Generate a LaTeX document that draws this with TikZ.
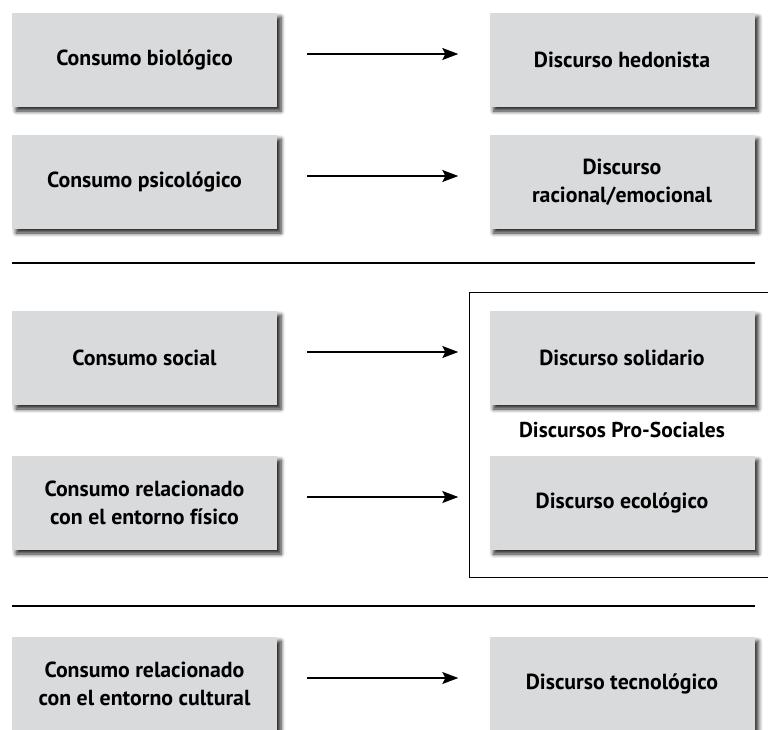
\documentclass[tikz,border=0pt]{standalone}
\usepackage{fontspec}
\setmainfont{PT Sans}
\usetikzlibrary{shadows.blur,arrows.meta}
\definecolor{boxgray}{HTML}{D9DADC}
\begin{document}
\begin{tikzpicture}[x=1pt,y=-1pt,
  card/.style={fill=boxgray, minimum width=265pt, minimum height=94pt, inner sep=0pt,
    align=center, font=\fontsize{21.8}{28}\selectfont\bfseries,
    blur shadow={shadow xshift=4pt, shadow yshift=-4pt, shadow blur steps=6, shadow blur radius=4pt, shadow opacity=85}},
  link/.style={line width=1.3pt, -{Stealth[length=16pt,width=12pt,inset=3pt]}, shorten <=30pt, shorten >=31pt},
  rule/.style={line width=2.8pt}]
\useasboundingbox (0,0) rectangle (768,729);
% Pro-Sociales frame
\draw[line width=1pt] (780,292) -- (469,292) -- (469,577) -- (780,577);
\node[font=\fontsize{21.5}{24}\selectfont\bfseries] (ps) at (622,430) {Discursos Pro-Sociales};
% left column
\node[card] (c1) at (144.5,60) {Consumo biológico};
\node[card] (c2) at (144.5,182) {Consumo psicológico};
\node[card] (c3) at (144.5,358) {Consumo social};
\node[card] (c4) at (144.5,503) {Consumo relacionado\\con el entorno físico};
\node[card] (c5) at (144.5,684) {Consumo relacionado\\con el entorno cultural};
% right column
\node[card] (d1) at (622,60) {Discurso hedonista};
\node[card] (d2) at (622,182) {Discurso\\racional/emocional};
\node[card] (d3) at (622,358) {Discurso solidario};
\node[card] (d4) at (622,503) {Discurso ecológico};
\node[card] (d5) at (622,684) {Discurso tecnológico};
% arrows
\foreach \i in {1,...,5}
  \draw[link] ([yshift=6pt]c\i.east) -- ([yshift=6pt]d\i.west);
% separators
\coordinate (s1a) at (12,263); \coordinate (s1b) at (755,263);
\coordinate (s2a) at (12,606); \coordinate (s2b) at (755,606);
\draw[rule] (s1a) -- (s1b);
\draw[rule] (s2a) -- (s2b);
\end{tikzpicture}
\end{document}
